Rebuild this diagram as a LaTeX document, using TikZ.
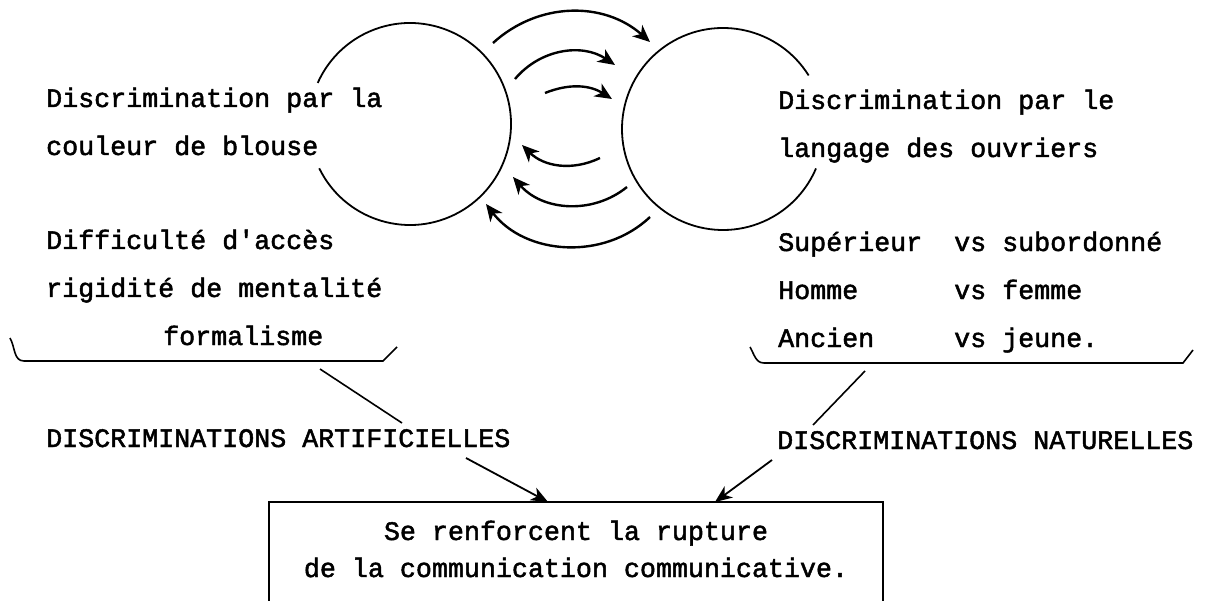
\documentclass[tikz,border=0pt]{standalone}
\usepackage{fontspec}
\newfontfamily\typewriter[FakeBold=1.8]{Liberation Mono}
\usetikzlibrary{arrows.meta,calc}

\newcommand{\vscol}[1]{\makebox[6.6em][l]{#1}}

\begin{document}
\begin{tikzpicture}[
  x=1pt, y=1pt,
  txt/.style={inner sep=0pt, anchor=base west, align=left,
              font=\typewriter\fontsize{26.67}{48}\selectfont},
  ring/.style={line width=1.8pt},
  swirl/.style={line width=2.4pt, -{Stealth[length=17pt, width=15pt, inset=5pt]}},
  brace/.style={line width=1.6pt},
  link/.style={line width=1.6pt},
  feed/.style={line width=1.8pt, -{Stealth[length=17pt, width=14pt, inset=5pt]}},
  >=Stealth
]
\useasboundingbox (0,0) rectangle (1206,-601);

% Two circles, open where the text runs into them
\coordinate (cL) at (410,-124);
\coordinate (cR) at (723,-129);
\draw[ring] ([shift={(-154:101)}]cL) arc[start angle=-154, end angle=156, radius=101];
\draw[ring] ([shift={(32:101)}]cR) arc[start angle=32, end angle=337, radius=101];

% Exchange arrows between the circles (top: to the right, bottom: to the left)
\foreach \i/\sx/\sy/\ex/\ey/\b in {1/493/-43/650/-42/42, 2/515/-79/615/-65/42,
    3/545/-93/612/-99/27, 4/600/-158/522/-145/35, 5/627/-187/513/-177/44,
    6/650/-217/486/-204/48}{
  \coordinate (s\i) at (\sx,\sy);
  \coordinate (e\i) at (\ex,\ey);
  \draw[swirl] (s\i) to[bend left=\b] (e\i);
}

% Left column (base = last line)
\node[txt] (blouse) at (46,-155) {Discrimination par la\\couleur de blouse};
\node[txt] (acces)  at (46,-297) {Difficulté d'accès\\rigidité de mentalité};
\node[txt] (forma)  at (163,-345) {formalisme};

% Right column
\node[txt] (langage) at (778,-157) {Discrimination par le\\langage des ouvriers};
\node[txt] (pairs)   at (778,-347) {\vscol{Supérieur}vs subordonné\\
                                     \vscol{Homme}vs femme\\
                                     \vscol{Ancien}vs jeune.};

% Brackets under both columns
\draw[brace] (10,-338) to[out=-60, in=180] (24,-361) -- (383,-361) -- (397,-347);
\draw[brace] (750,-347) to[out=-60, in=180] (764,-363) -- (1183,-363) -- (1193,-350);

% Category labels
\node[txt] (artif) at (46,-447) {DISCRIMINATIONS ARTIFICIELLES};
\node[txt] (natur) at (777,-449) {DISCRIMINATIONS NATURELLES};

\coordinate (brL) at (320,-369);
\coordinate (tiL) at (402,-423);
\coordinate (brR) at (865,-371);
\coordinate (tiR) at (813,-425);
\draw[link] (brL) -- (tiL);
\draw[link] (brR) -- (tiR);

% Result box (cut by the lower edge)
\node[txt, anchor=base, align=center,
      font=\typewriter\fontsize{26.67}{37}\selectfont]
  (result) at (576,-577) {Se renforcent la rupture\\de la communication communicative.};
\draw[line width=1.2pt] (269,-601) -- (269,-502) -- (883,-502) -- (883,-601);

\coordinate (frA) at (466,-458);
\coordinate (toA) at (548,-502);
\coordinate (frN) at (772,-460);
\coordinate (toN) at (715,-502);
\draw[feed] (frA) -- (toA);
\draw[feed] (frN) -- (toN);
\end{tikzpicture}
\end{document}
